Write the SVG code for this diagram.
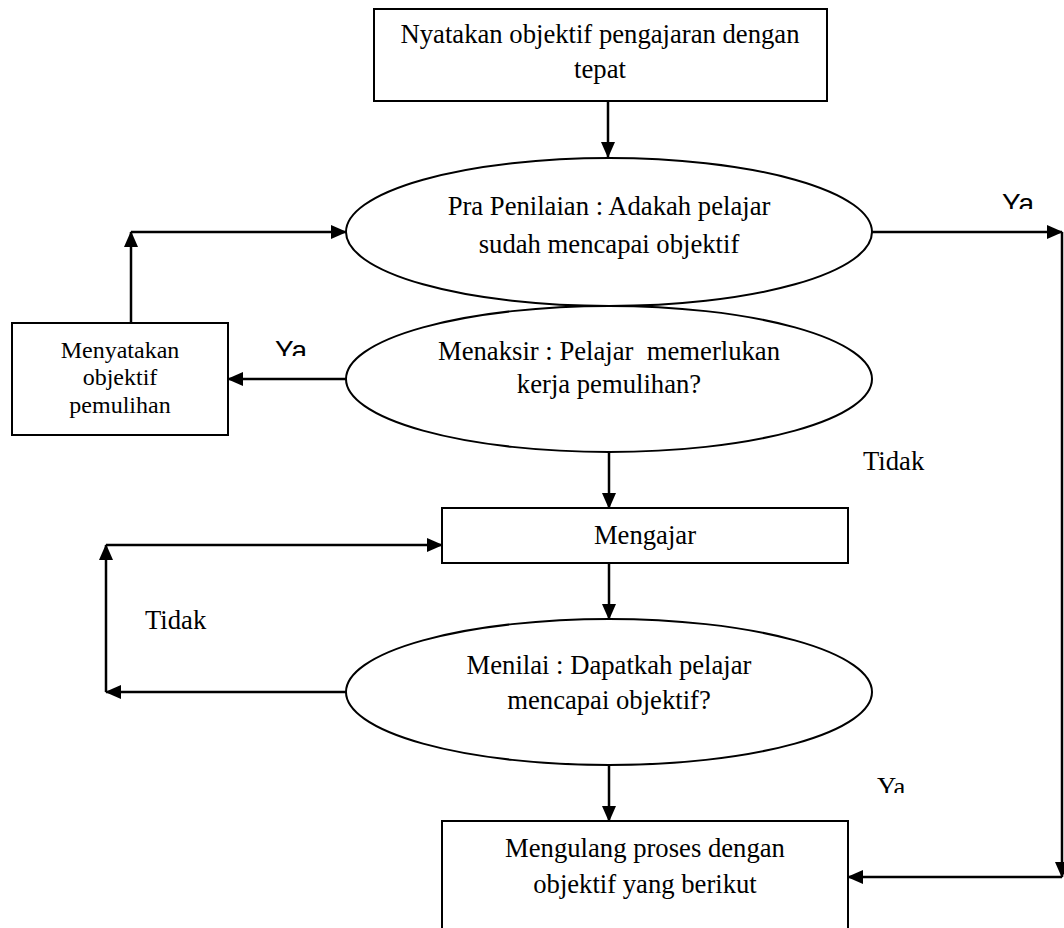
<svg xmlns="http://www.w3.org/2000/svg" width="1064" height="928" viewBox="0 0 1064 928">
<style>
.shape{fill:#fff;stroke:#000;stroke-width:2}
.t{font-family:"Liberation Serif","Times New Roman",serif;font-size:26.67px;fill:#000;text-anchor:middle}
.ts{font-family:"Liberation Serif","Times New Roman",serif;font-size:24px;fill:#000;text-anchor:middle}
.lbl{font-family:"Liberation Serif","Times New Roman",serif;font-size:26.67px;fill:#000}
.ya{font-family:"Liberation Sans",Arial,sans-serif;font-size:28px;fill:#000}
.c{fill:none;stroke:#000;stroke-width:2.5}
</style>
<defs>
<marker id="ah" markerUnits="userSpaceOnUse" markerWidth="16" markerHeight="14" refX="15" refY="7" orient="auto">
<path d="M0,0 L16,7 L0,14 Z" fill="#000"/>
</marker>
<clipPath id="clipYa1"><rect x="990" y="180" width="60" height="29"/></clipPath>
<clipPath id="clipYa2"><rect x="265" y="325" width="60" height="31"/></clipPath>
<clipPath id="clipYa3"><rect x="870" y="765" width="60" height="28"/></clipPath>
</defs>

<g id="n-start">
<rect class="shape" x="374" y="9" width="453" height="92"/>
<text class="t" x="600" y="43">Nyatakan objektif pengajaran dengan</text>
<text class="t" x="600" y="78">tepat</text>
</g>

<g id="n-pra">
<ellipse class="shape" cx="609" cy="232" rx="263" ry="74"/>
<text class="t" x="609" y="215">Pra Penilaian : Adakah pelajar</text>
<text class="t" x="609" y="253">sudah mencapai objektif</text>
</g>

<g id="n-menaksir">
<ellipse class="shape" cx="609" cy="379" rx="263" ry="73"/>
<text class="t" x="609" y="360" xml:space="preserve">Menaksir : Pelajar  memerlukan</text>
<text class="t" x="609" y="393">kerja pemulihan?</text>
</g>

<g id="n-pemulihan">
<rect class="shape" x="12" y="323" width="216" height="112"/>
<text class="ts" x="120" y="358">Menyatakan</text>
<text class="ts" x="120" y="385">objektif</text>
<text class="ts" x="120" y="413">pemulihan</text>
</g>

<g id="n-mengajar">
<rect class="shape" x="442" y="508" width="406" height="55"/>
<text class="t" x="645" y="544">Mengajar</text>
</g>

<g id="n-menilai">
<ellipse class="shape" cx="609" cy="692" rx="263" ry="73"/>
<text class="t" x="609" y="674">Menilai : Dapatkah pelajar</text>
<text class="t" x="609" y="709">mencapai objektif?</text>
</g>

<g id="n-ulang">
<rect class="shape" x="442" y="821" width="406" height="130"/>
<text class="t" x="645" y="857">Mengulang proses dengan</text>
<text class="t" x="645" y="893">objektif yang berikut</text>
</g>

<g id="connectors">
<line class="c" x1="608" y1="101" x2="608" y2="157" marker-end="url(#ah)"/>
<polyline class="c" points="131,323 131,232" marker-end="url(#ah)"/>
<line class="c" x1="131" y1="232" x2="346" y2="232" marker-end="url(#ah)"/>
<line class="c" x1="346" y1="379" x2="228" y2="379" marker-end="url(#ah)"/>
<line class="c" x1="872" y1="232" x2="1062" y2="232" marker-end="url(#ah)"/>
<line class="c" x1="1062" y1="232" x2="1062" y2="877" marker-end="url(#ah)"/>
<line class="c" x1="1062" y1="877" x2="848" y2="877" marker-end="url(#ah)"/>
<line class="c" x1="609" y1="452" x2="609" y2="508" marker-end="url(#ah)"/>
<line class="c" x1="346" y1="692" x2="106" y2="692" marker-end="url(#ah)"/>
<line class="c" x1="106" y1="692" x2="106" y2="545" marker-end="url(#ah)"/>
<line class="c" x1="106" y1="545" x2="442" y2="545" marker-end="url(#ah)"/>
<line class="c" x1="609" y1="563" x2="609" y2="619" marker-end="url(#ah)"/>
<line class="c" x1="609" y1="765" x2="609" y2="821" marker-end="url(#ah)"/>
</g>

<g id="labels">
<text class="ya" x="1002" y="213" clip-path="url(#clipYa1)">Ya</text>
<text class="ya" x="275" y="360" clip-path="url(#clipYa2)">Ya</text>
<text class="lbl" x="877" y="796" clip-path="url(#clipYa3)">Ya</text>
<text class="lbl" x="863" y="470">Tidak</text>
<text class="lbl" x="145" y="629">Tidak</text>
</g>
</svg>
